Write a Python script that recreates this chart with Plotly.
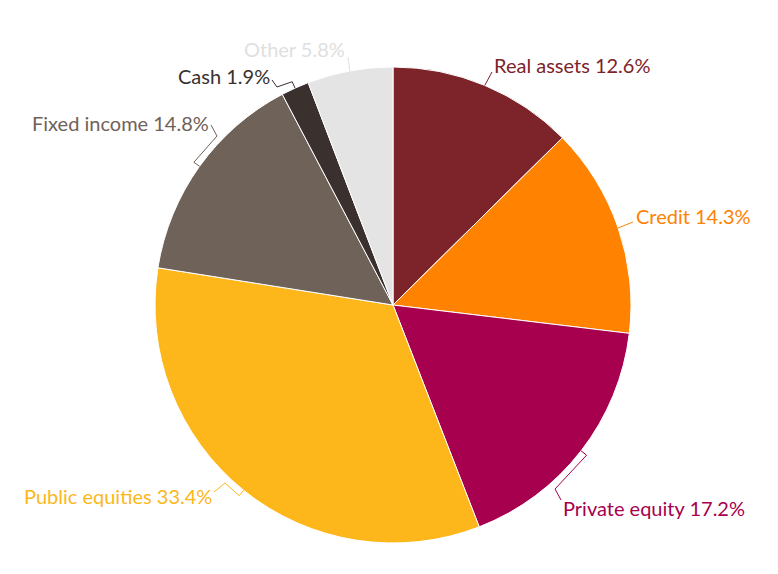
import math
import plotly.graph_objects as go

# ---- data ----
categories = ["Real assets", "Credit", "Private equity", "Public equities",
              "Fixed income", "Cash", "Other"]
values = [12.6, 14.3, 17.2, 33.4, 14.8, 1.9, 5.8]
colors = ["#7C2429", "#FF8200", "#A6004F", "#FDB71A", "#6F6259", "#3A302E", "#E4E4E4"]
label_colors = ["#7C2429", "#FF8200", "#A6004F", "#FDB71A", "#6F6259", "#3A302E", "#E0E0E0"]

# ---- layout (pixels) ----
W, H = 778, 574
CX, CY, R = 393, 305, 238
# text anchor (x, y-center, side) for each label
text_pos = [(492, 65, "left"), (634, 216, "left"), (561, 508, "left"),
            (214, 496, "right"), (211, 123, "right"), (272, 76, "right"),
            (347, 49, "right")]
# connector end point near label and optional crook offset
conn_end = [(492, 72), (633, 222), (561, 500), (214, 492), (211, 125), (272, 80), (348, 57)]
crook = [None, None, (-6, -11), (11, -9), (6, 11), (5, 7), None]


def px(x):
    return x / W


def py(y):
    return 1 - y / H


fig = go.Figure(go.Pie(
    labels=categories, values=values, sort=False, direction="clockwise",
    rotation=0, marker=dict(colors=colors, line=dict(color="white", width=1)),
    textinfo="none", hoverinfo="label+percent", showlegend=False,
    domain=dict(x=[px(CX - R), px(CX + R)], y=[py(CY + R), py(CY - R)]),
))

total = sum(values)
cum = 0.0
shapes, annotations = [], []
for i, v in enumerate(values):
    mid = (cum + v / 2) / total * 2 * math.pi
    cum += v
    ux, uy = math.sin(mid), -math.cos(mid)
    pts = [(CX + R * ux, CY + R * uy)]
    ex, ey = conn_end[i]
    if crook[i] is not None:
        pts.append((CX + (R + 7) * ux, CY + (R + 7) * uy))
        pts.append((ex + crook[i][0], ey + crook[i][1]))
    pts.append((ex, ey))
    path = "M " + " L ".join(f"{px(x):.5f},{py(y):.5f}" for x, y in pts)
    shapes.append(dict(type="path", xref="paper", yref="paper", path=path,
                       line=dict(color=label_colors[i], width=1)))
    tx, ty, side = text_pos[i]
    annotations.append(dict(
        x=px(tx), y=py(ty), xref="paper", yref="paper", xanchor=side, yanchor="middle",
        text=f"{categories[i]} {v}%", showarrow=False,
        font=dict(family="Lato", size=20, color=label_colors[i])))

fig.update_layout(width=W, height=H, margin=dict(l=0, r=0, t=0, b=0),
                  paper_bgcolor="white", plot_bgcolor="white",
                  shapes=shapes, annotations=annotations)
fig.write_html("out.html")
